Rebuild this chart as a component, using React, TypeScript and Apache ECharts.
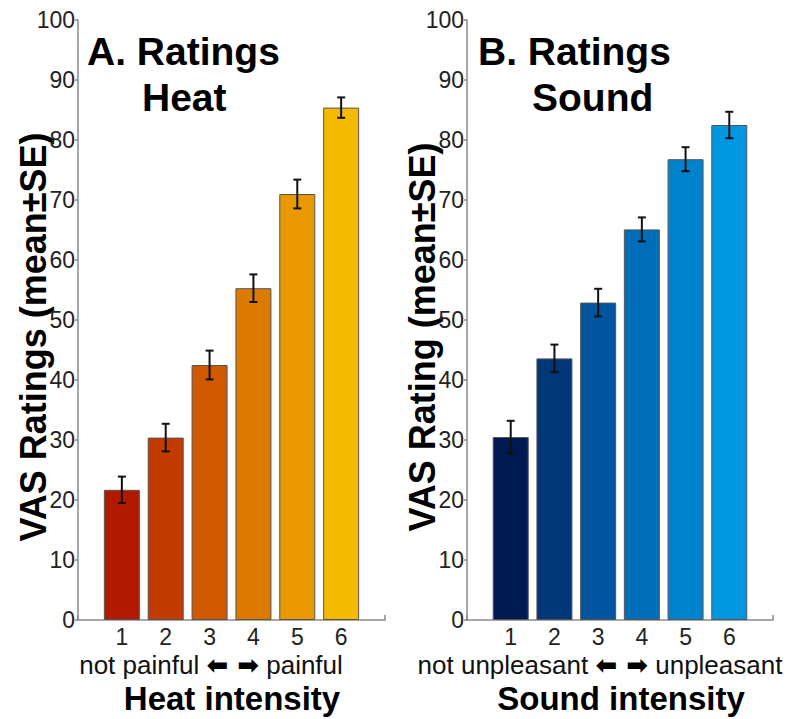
import React, { useEffect, useRef } from "react";
import * as echarts from "echarts";

const intensities = [1, 2, 3, 4, 5, 6];
const xTickLabels = ["1", "2", "3", "4", "5", "6"];
const heatMeans = [21.7, 30.4, 42.5, 55.3, 71.0, 85.4];
const heatSE = [2.2, 2.3, 2.4, 2.3, 2.4, 1.7];
const soundMeans = [30.5, 43.6, 52.9, 65.1, 76.8, 82.5];
const soundSE = [2.7, 2.3, 2.3, 2.0, 2.0, 2.2];
const heatColors = ["#B21A00", "#C23B00", "#D05900", "#DD7A00", "#E99800", "#F4BA00"];
const soundColors = ["#001A50", "#003778", "#00559E", "#006DB8", "#0082CC", "#0096E0"];

const FONT = "Liberation Sans, Arial, sans-serif";
const AXIS_COLOR = "#8a8a8a";

function App() {
  const ref = useRef<HTMLDivElement>(null);
  useEffect(() => {
    if (!ref.current) return;
    const chart = echarts.init(ref.current, null, { renderer: "svg" });

    const xAxisCfg = (gridIndex: number) => ({
      type: "value",
      gridIndex,
      min: 0,
      max: 7,
      interval: 1,
      axisLine: { show: true, lineStyle: { color: AXIS_COLOR, width: 1.5 } },
      axisTick: { show: true, inside: true, length: 5, lineStyle: { color: AXIS_COLOR, width: 1.5 } },
      splitLine: { show: false },
      axisLabel: {
        fontSize: 23,
        lineHeight: 22,
        color: "#222",
        fontFamily: FONT,
        margin: 6,
        formatter: (v: number) => {
          const i = intensities.indexOf(v);
          return i >= 0 ? xTickLabels[i] : "";
        },
      },
    });
    const yAxisCfg = (gridIndex: number) => ({
      type: "value",
      gridIndex,
      min: 0,
      max: 100,
      interval: 10,
      axisLine: { show: true, lineStyle: { color: AXIS_COLOR, width: 1.5 } },
      axisTick: { show: true, length: 3, lineStyle: { color: AXIS_COLOR, width: 1.5 } },
      splitLine: { show: false },
      axisLabel: { fontSize: 23, color: "#222", fontFamily: FONT, margin: 3 },
    });

    const barSeries = (idx: number, means: number[], colors: string[]) => ({
      type: "bar",
      xAxisIndex: idx,
      yAxisIndex: idx,
      barWidth: 36,
      data: means.map((m, i) => ({
        value: [intensities[i], m],
        itemStyle: { color: colors[i], borderColor: "#555", borderWidth: 1 },
      })),
      z: 2,
    });

    const errSeries = (idx: number, means: number[], se: number[]) => ({
      type: "custom",
      xAxisIndex: idx,
      yAxisIndex: idx,
      z: 5,
      encode: { x: 0, y: 1 },
      data: means.map((m, i) => [intensities[i], m, se[i]]),
      renderItem: (params: any, api: any) => {
        const x = api.value(0);
        const y = api.value(1);
        const s = api.value(2);
        const top = api.coord([x, y + s]);
        const bot = api.coord([x, y - s]);
        const cap = 4;
        const st = { stroke: "#111", lineWidth: 2 };
        return {
          type: "group",
          children: [
            { type: "line", shape: { x1: top[0], y1: top[1], x2: bot[0], y2: bot[1] }, style: st },
            { type: "line", shape: { x1: top[0] - cap, y1: top[1], x2: top[0] + cap, y2: top[1] }, style: st },
            { type: "line", shape: { x1: bot[0] - cap, y1: bot[1], x2: bot[0] + cap, y2: bot[1] }, style: st },
          ],
        };
      },
    });

    const boldText = (text: string, x: number, y: number, size: number, align = "left", rotation = 0) => ({
      type: "text",
      x,
      y,
      rotation,
      style: {
        text,
        fontSize: size,
        fontWeight: "bold",
        fontFamily: FONT,
        fill: "#000",
        textAlign: align,
        textVerticalAlign: "middle",
      },
    });

    const arrowText = (text: string, x: number, y: number) => ({
      type: "text",
      x,
      y,
      style: {
        text,
        fontSize: 26,
        lineHeight: 24,
        fontFamily: FONT,
        fill: "#111",
        textAlign: "center",
        textVerticalAlign: "middle",
        rich: {
          a: { fontSize: 26, lineHeight: 24, fontWeight: "bold", fontFamily: "DejaVu Sans", fill: "#000" },
        },
      },
    });

    chart.setOption({
      animation: false,
      textStyle: { fontFamily: FONT },
      grid: [
        { left: 78, top: 20, width: 307, height: 600 },
        { left: 467, top: 20, width: 306, height: 600 },
      ],
      xAxis: [xAxisCfg(0), xAxisCfg(1)],
      yAxis: [yAxisCfg(0), yAxisCfg(1)],
      series: [
        barSeries(0, heatMeans, heatColors),
        errSeries(0, heatMeans, heatSE),
        barSeries(1, soundMeans, soundColors),
        errSeries(1, soundMeans, soundSE),
      ],
      graphic: [
        boldText("A. Ratings", 87, 51, 39),
        boldText("Heat", 142, 97, 39),
        boldText("B. Ratings", 478, 51, 39),
        boldText("Sound", 532, 97, 39),
        boldText("VAS Ratings (mean±SE)", 33, 337, 36, "center", Math.PI / 2),
        boldText("VAS Rating (mean±SE)", 422, 337, 36, "center", Math.PI / 2),
        arrowText("not painful {a|⬅ ➡} painful", 211, 665),
        arrowText("not unpleasant {a|⬅ ➡} unpleasant", 600, 665),
        boldText("Heat intensity", 232, 698, 33, "center"),
        boldText("Sound intensity", 621, 698, 33, "center"),
      ],
    });
    return () => chart.dispose();
  }, []);
  return (
    <div
      ref={ref}
      style={{ position: "fixed", left: 0, top: 0, width: 790, height: 719, background: "#fff" }}
    />
  );
}

export default App;
